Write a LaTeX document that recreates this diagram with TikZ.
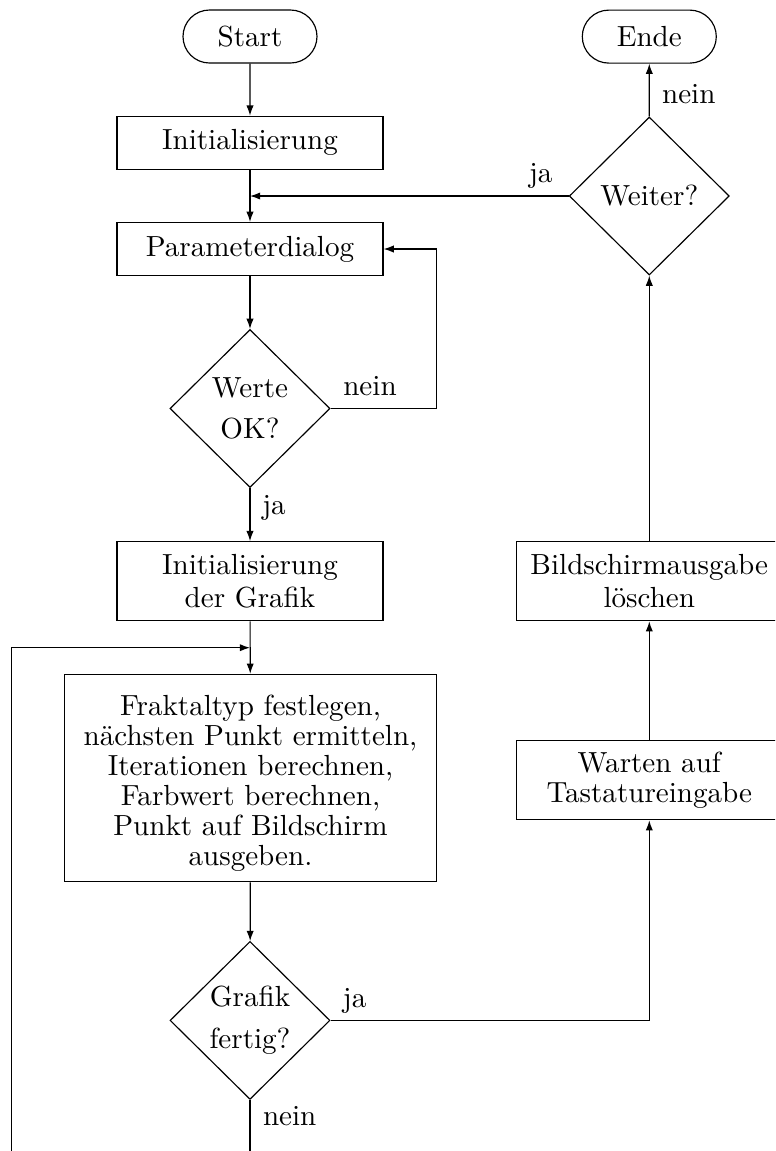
\documentclass[tikz,border=0pt]{standalone}
\usepackage{fontspec}
\usetikzlibrary{shapes.geometric,shapes.misc,arrows.meta}
\newlength\pxu
\setlength\pxu{0.3437pt}
\begin{document}
\begin{tikzpicture}[x=0.3437pt,y=-0.3437pt,
  >={Latex[length=3.5pt,width=2.5pt]},
  every node/.style={font=\fontsize{10}{10.3}\selectfont},
  box/.style={draw, rectangle, align=center, minimum width=266*\pxu, minimum height=53*\pxu, inner sep=0pt},
  tallbox/.style={box, minimum height=79*\pxu, font=\fontsize{10}{11.5}\selectfont},
  term/.style={draw, rounded rectangle, minimum width=134*\pxu, minimum height=53*\pxu, inner sep=0pt},
  dec/.style={draw, diamond, align=center, minimum width=160*\pxu, minimum height=158*\pxu, inner sep=0pt},
  lbl/.style={inner sep=0pt}]
\path[use as bounding box] (0,0) rectangle (775,1151);
\clip (0,0) rectangle (775,1151);

\node[term] (start) at (250,36.5) {Start};
\node[box] (init) at (250,142.7) {Initialisierung};
\node[box] (param) at (250,249) {Parameterdialog};
\node[dec] (werte) at (250,408.5) {Werte\\[4pt]OK?};
\node[tallbox] (initg) at (250,581.2) {Initialisierung\\der Grafik};
\node[box, minimum width=372.4*\pxu, minimum height=207.4*\pxu] (frakt) at (250.5,778)
  {\rule{0pt}{10.9pt}Fraktaltyp festlegen,\\nächsten Punkt ermitteln,\\Iterationen berechnen,\\Farbwert berechnen,\\Punkt auf Bildschirm\\ausgeben.};
\node[dec] (grafik) at (250,1020.4) {Grafik\\[4pt]fertig?};
\node[tallbox, font=\fontsize{10}{10.5}\selectfont] (warten) at (649.3,780.2) {Warten auf\\Tastatureingabe};
\node[tallbox] (bild) at (649.3,581.2) {Bildschirmausgabe\\löschen};
\node[dec] (weiter) at (649.3,196) {Weiter?};
\node[term] (ende) at (649.3,36.6) {Ende};

\node[lbl] (lja1) at (540.8,175.8) {ja};
\node[lbl] (lnein1) at (688.8,94) {nein};
\node[lbl] (lnein2) at (370,386) {nein};
\node[lbl] (lja2) at (274,508) {ja};
\node[lbl] (lja3) at (354.7,1000.5) {ja};
\node[lbl] (lnein3) at (289.7,1116) {nein};

\coordinate (j1) at (init.south |- weiter.west);
\coordinate (r1) at (436.7,408.5);
\coordinate (j2) at (250,647.7);
\coordinate (lb) at (11.7,1160);
\coordinate (gb) at (250,1160);

\draw[->] (start) -- (init);
\draw[->] (init) -- (param);
\draw[->] (weiter.west) -- (j1);
\draw[->] (param) -- (werte);
\draw[->] (werte.east) -- (r1) |- (param.east);
\draw[->] (werte) -- (initg);
\draw[->] (initg) -- (frakt);
\draw[->] (lb) |- (j2);
\draw[->] (frakt) -- (grafik);
\draw (grafik) -- (gb);
\draw[->] (grafik.east) -| (warten.south);
\draw[->] (warten) -- (bild);
\draw[->] (bild) -- (weiter);
\draw[->] (weiter) -- (ende);
\end{tikzpicture}
\end{document}
